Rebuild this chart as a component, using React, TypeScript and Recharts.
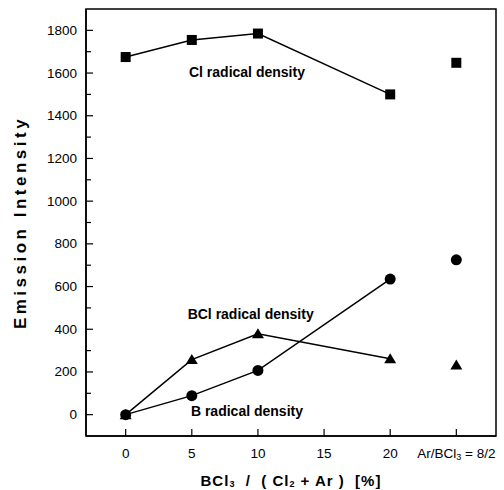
import { ScatterChart, Scatter, XAxis, YAxis, ReferenceArea, ReferenceDot } from "recharts";

const FONT = '"Liberation Sans", Arial, sans-serif';

// BCl3 / (Cl2 + Ar) [%]
const ratios = [0, 5, 10, 20];
const clValues = [1675, 1755, 1785, 1500];
const bclValues = [0, 258, 379, 262];
const bValues = [0, 89, 207, 635];

// separate Ar/BCl3 = 8/2 condition, drawn at x = 25
const arPos = 25;
const arCl = 1648;
const arBcl = 232;
const arB = 725;

const xTicks = [0, 5, 10, 15, 20, 25];
const yTicks = [0, 100, 200, 300, 400, 500, 600, 700, 800, 900, 1000, 1100, 1200, 1300, 1400, 1500, 1600, 1700, 1800];

const toPoints = (vals: number[]) => ratios.map((r, i) => ({ x: r, y: vals[i] }));
const clData = toPoints(clValues);
const bclData = toPoints(bclValues);
const bData = toPoints(bValues);

const Square = (p: any) => <rect x={p.cx - 5} y={p.cy - 5} width={10} height={10} fill="#000" />;
const Dot = (p: any) => <circle cx={p.cx} cy={p.cy} r={5.5} fill="#000" />;
const Tri = (p: any) => (
  <polygon points={`${p.cx},${p.cy - 5.5} ${p.cx - 6},${p.cy + 4.5} ${p.cx + 6},${p.cy + 4.5}`} fill="#000" />
);

const YTick = ({ x, y, payload }: any) => {
  const major = payload.value % 200 === 0;
  return (
    <g>
      <line x1={x} x2={x + (major ? 7 : 5)} y1={y} y2={y} stroke="#000" strokeWidth={1.2} />
      {major && (
        <text x={x - 9} y={y} textAnchor="end" dominantBaseline="central" fontSize={13.5} fontFamily={FONT} fill="#000">
          {payload.value}
        </text>
      )}
    </g>
  );
};

const XTick = ({ x, y, payload }: any) => (
  <g>
    <line x1={x} x2={x} y1={y} y2={y - 7} stroke="#000" strokeWidth={1.2} />
    <text x={x} y={y + 17} textAnchor="middle" dominantBaseline="central" fontSize={13.5} fontFamily={FONT} fill="#000">
      {payload.value === arPos ? (
        <>
          <tspan>Ar/BCl</tspan>
          <tspan dy={4} fontSize={9}>3</tspan>
          <tspan dy={-4}> = 8/2</tspan>
        </>
      ) : (
        payload.value
      )}
    </text>
  </g>
);

const XTitle = ({ viewBox }: any) => (
  <text
    x={viewBox.x + viewBox.width / 2}
    y={viewBox.y + 44}
    textAnchor="middle"
    dominantBaseline="central"
    fontSize={15}
    fontWeight="bold"
    fontFamily={FONT}
    letterSpacing={1}
    fill="#000"
    style={{ whiteSpace: "pre" }}
  >
    <tspan>BCl</tspan>
    <tspan dy={4} fontSize={9}>3</tspan>
    <tspan dy={-4}>  /  ( Cl</tspan>
    <tspan dy={4} fontSize={9}>2</tspan>
    <tspan dy={-4}> + Ar )  [%]</tspan>
  </text>
);

const YTitle = ({ viewBox }: any) => {
  const cx = 20;
  const cy = viewBox.y + viewBox.height / 2;
  return (
    <text
      x={cx}
      y={cy}
      transform={`rotate(-90 ${cx} ${cy})`}
      textAnchor="middle"
      dominantBaseline="central"
      fontSize={17}
      fontWeight="bold"
      fontFamily={FONT}
      letterSpacing={3.5}
      fill="#000"
    >
      Emission Intensity
    </text>
  );
};

const note = (value: string) => ({
  value,
  position: "center" as const,
  fontSize: 14,
  fontWeight: "bold",
  fontFamily: FONT,
  fill: "#000",
});

export default function App() {
  return (
    <div style={{ position: "absolute", left: 0, top: 0, background: "#fff" }}>
      <ScatterChart width={504} height={490} margin={{ top: 9, right: 8, bottom: 0, left: 0 }}>
        <XAxis
          type="number"
          dataKey="x"
          domain={[-3, 28]}
          ticks={xTicks}
          allowDataOverflow
          height={54}
          tickSize={0}
          tickMargin={0}
          tickLine={false}
          tick={<XTick />}
          axisLine={{ stroke: "#000", strokeWidth: 1.5 }}
          label={{ content: <XTitle /> }}
        />
        <YAxis
          type="number"
          dataKey="y"
          domain={[-100, 1900]}
          ticks={yTicks}
          interval={0}
          allowDataOverflow
          width={86}
          tickSize={0}
          tickMargin={0}
          tickLine={false}
          tick={<YTick />}
          axisLine={{ stroke: "#000", strokeWidth: 1.5 }}
          label={{ content: <YTitle /> }}
        />
        <ReferenceArea x1={-3} x2={28} y1={-100} y2={1900} fill="none" stroke="#000" strokeWidth={1.5} />
        <Scatter data={clData} line={{ stroke: "#000", strokeWidth: 1.5 }} shape={Square} isAnimationActive={false} />
        <Scatter data={bclData} line={{ stroke: "#000", strokeWidth: 1.5 }} shape={Tri} isAnimationActive={false} />
        <Scatter data={bData} line={{ stroke: "#000", strokeWidth: 1.5 }} shape={Dot} isAnimationActive={false} />
        <Scatter data={[{ x: arPos, y: arCl }]} shape={Square} isAnimationActive={false} />
        <Scatter data={[{ x: arPos, y: arBcl }]} shape={Tri} isAnimationActive={false} />
        <Scatter data={[{ x: arPos, y: arB }]} shape={Dot} isAnimationActive={false} />
        <ReferenceDot x={9.17} y={1606} r={0} stroke="none" label={note("Cl radical density")} />
        <ReferenceDot x={9.45} y={470} r={0} stroke="none" label={note("BCl radical density")} />
        <ReferenceDot x={9.17} y={15} r={0} stroke="none" label={note("B radical density")} />
      </ScatterChart>
    </div>
  );
}
